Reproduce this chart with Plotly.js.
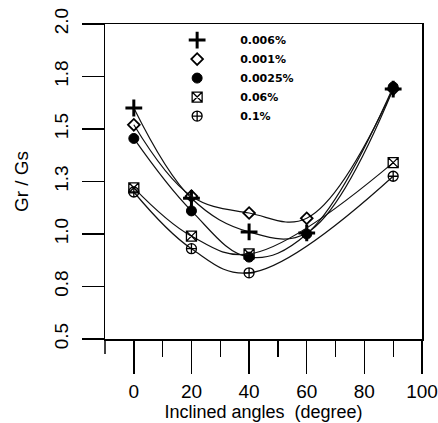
<!DOCTYPE html>
<html><head><meta charset="utf-8">
<script src="https://cdn.plot.ly/plotly-3.0.1.min.js"></script>
<style>html,body{margin:0;padding:0;background:#fff}#chart{width:438px;height:423px}</style>
</head><body><div id="chart"></div>
<script>
const seriesNames = ["0.006%", "0.001%", "0.0025%", "0.06%", "0.1%"];
const anglesA = [0, 20, 40, 60, 90];
const anglesB = [0, 20, 40, 90];
const s0006 = [1.60, 1.17, 1.01, 1.005, 1.69];
const s0001 = [1.52, 1.18, 1.10, 1.075, 1.69];
const s00025 = [1.455, 1.11, 0.89, 1.00, 1.70];
const s006 = [1.22, 0.99, 0.905, 1.34];
const s01 = [1.20, 0.93, 0.815, 1.275];
const yTickVals = [0.5, 0.75, 1.0, 1.25, 1.5, 1.75, 2.0];
const yTickText = ["0.5", "0.8", "1.0", "1.3", "1.5", "1.8", "2.0"];
const xTickVals = [0, 20, 40, 60, 80, 100];
const xMinorVals = [10, 30, 50, 70, 90];

const symbols = [
  {symbol: "cross-thin-open", size: 12, line: {width: 3, color: "#000"}, color: "#000"},
  {symbol: "diamond-open", size: 9, line: {width: 1.8, color: "#000"}, color: "#000"},
  {symbol: "circle", size: 10, line: {width: 1, color: "#000"}, color: "#000"},
  {symbol: "square-x-open", size: 10, line: {width: 1.3, color: "#000"}, color: "#000"},
  {symbol: "circle-cross-open", size: 10, line: {width: 1.3, color: "#000"}, color: "#000"}
];
const xs = [anglesA, anglesA, anglesA, anglesB, anglesB];
const ys = [s0006, s0001, s00025, s006, s01];

const traces = [];
for (let i = 0; i < 5; i++) {
  traces.push({
    x: xs[i], y: ys[i], type: "scatter", mode: "lines+markers",
    line: {shape: "spline", smoothing: 1.1, color: "#111", width: 1.2},
    marker: symbols[i], showlegend: false, name: seriesNames[i]
  });
}
for (let i = 0; i < 5; i++) {
  traces.push({
    x: [null], y: [null], type: "scatter", mode: "markers",
    marker: symbols[i], showlegend: true, name: seriesNames[i]
  });
}

const layout = {
  width: 438, height: 423,
  margin: {l: 105, r: 16, t: 24, b: 84},
  paper_bgcolor: "#fff", plot_bgcolor: "#fff",
  font: {family: "Liberation Sans, Arial, sans-serif", color: "#000"},
  showlegend: true,
  legend: {x: 0.155, y: 0.995, xanchor: "left", yanchor: "top", itemwidth: 76,
    bgcolor: "rgba(0,0,0,0)", font: {family: "DejaVu Sans", size: 11, weight: "bold", color: "#000"},
    tracegroupgap: 0},
  xaxis: {
    range: [-10, 100], tickvals: xTickVals, ticks: "outside", ticklen: 33, tickwidth: 1.5,
    tickcolor: "#000", showline: true, linecolor: "#000", linewidth: 1.5, mirror: true,
    showgrid: false, zeroline: false, tickfont: {size: 19}, ticklabelstandoff: 2,
    minor: {tickvals: xMinorVals, ticks: "outside", ticklen: 16, tickwidth: 1.3, tickcolor: "#000", showgrid: false},
    title: {text: "Inclined angles  (degree)", font: {size: 18}, standoff: 2}
  },
  yaxis: {
    range: [0.5, 2.0], tickvals: yTickVals, ticktext: yTickText, ticks: "outside", ticklen: 22,
    tickwidth: 1.5, tickcolor: "#000", showline: true, linecolor: "#000", linewidth: 1.5, mirror: true,
    showgrid: false, zeroline: false, tickangle: -90, tickfont: {size: 19}, ticklabelstandoff: 6,
    title: {text: "Gr / Gs", font: {size: 19}, standoff: 17}
  },
  shapes: [
    {type: "line", xref: "paper", yref: "paper", x0: 0, x1: 0, y0: 0, y1: -0.048,
     line: {color: "#000", width: 1.5}}
  ]
};
Plotly.newPlot("chart", traces, layout, {displayModeBar: false, staticPlot: true});
</script></body></html>
